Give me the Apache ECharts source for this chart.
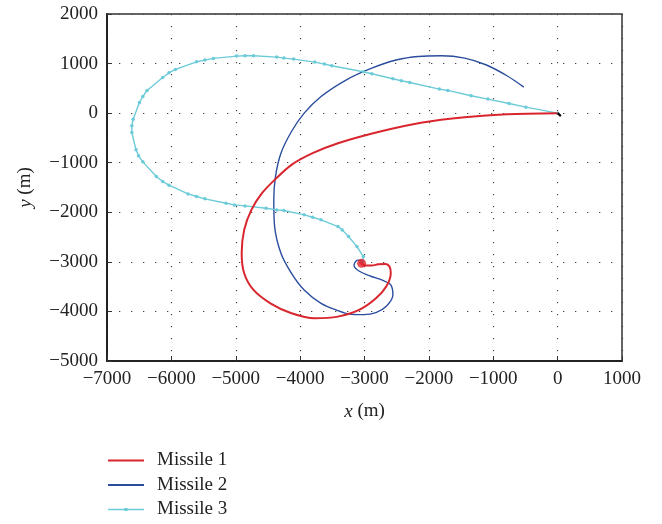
<!DOCTYPE html>
<html><head><meta charset="utf-8">
<script src="https://cdn.jsdelivr.net/npm/echarts@6/dist/echarts.min.js"></script>
<style>html,body{margin:0;padding:0;background:#fff}#c{width:662px;height:524px}</style>
</head><body><div id="c"></div>
<script>
var xTicks = [-7000,-6000,-5000,-4000,-3000,-2000,-1000,0,1000];
var yTicks = [-5000,-4000,-3000,-2000,-1000,0,1000,2000];
var seriesNames = ['Missile 1','Missile 2','Missile 3'];

var missile1 = [[0,0],[-787,-20],[-1444,-81],[-2100,-188],[-2756,-370],[-3412,-606],[-3806,-808],[-4134,-1043],[-4396,-1346],[-4593,-1615],[-4757,-1952],[-4869,-2355],[-4908,-2826],[-4869,-3230],[-4724,-3567],[-4462,-3836],[-4134,-4038],[-3773,-4139],[-3412,-4105],[-3084,-3970],[-2822,-3735],[-2657,-3486],[-2592,-3230],[-2612,-3096],[-2677,-3042],[-2789,-3049],[-2887,-3075],[-2986,-3075],[-3051,-3028],[-3040,-2990]];

var missile2 = [[-525,525],[-787,754],[-1115,976],[-1444,1110],[-1804,1157],[-2165,1144],[-2493,1077],[-2887,908],[-3281,673],[-3675,336],[-3937,0],[-4134,-370],[-4298,-807],[-4383,-1279],[-4409,-1750],[-4396,-2288],[-4298,-2826],[-4134,-3230],[-3937,-3567],[-3675,-3836],[-3412,-3984],[-3230,-4055],[-3018,-4065],[-2822,-4024],[-2657,-3890],[-2559,-3668],[-2592,-3466],[-2723,-3370],[-2900,-3290],[-3080,-3190],[-3163,-3068],[-3110,-2966],[-3023,-2980],[-3030,-3030]];

var missile3 = [[0,0],[-492,121],[-755,195],[-1083,283],[-1345,350],[-1706,458],[-1837,485],[-2297,619],[-2428,653],[-2559,693],[-2887,794],[-3018,834],[-3510,956],[-3622,989],[-3773,1030],[-4101,1090],[-4252,1110],[-4364,1131],[-4724,1157],[-4856,1157],[-4987,1151],[-5348,1104],[-5479,1070],[-5610,1036],[-5938,882],[-6037,814],[-6135,720],[-6378,458],[-6444,336],[-6496,215],[-6594,-121],[-6614,-256],[-6614,-390],[-6549,-740],[-6509,-861],[-6444,-983],[-6234,-1279],[-6135,-1380],[-6037,-1454],[-5741,-1629],[-5610,-1682],[-5479,-1729],[-5151,-1817],[-5020,-1851],[-4856,-1871],[-4528,-1918],[-4364,-1952],[-4252,-1965],[-3937,-2052],[-3806,-2100],[-3675,-2153],[-3412,-2288],[-3346,-2355],[-3248,-2490],[-3117,-2692],[-3018,-2894],[-3031,-2995]];

var endDot = [[-3045,-3030]];
var targetMark = [[0,0],[50,-60]];

var FONT = 'Liberation Serif';
function fmt(v){ return String(v).replace('-', '\u2212'); }

var lineIcon = 'path://M0,0 L36,0 L36,2 L0,2 Z';
var dotIcon = 'path://M0,1.2 L36,1.2 L36,2.8 L0,2.8 Z M16.4,0.4 L19.6,0.4 L19.6,3.6 L16.4,3.6 Z';
var legendText = {fontFamily:FONT, fontSize:19, color:'#222', padding:[0,0,0,8]};
function legendFor(name, icon, h, top){
  return {data:[{name:name, icon:icon}], orient:'vertical', left:103, top:top,
    itemWidth:36, itemHeight:h, textStyle:legendText, selectedMode:false};
}

var chart = echarts.init(document.getElementById('c'), null, {renderer:'canvas'});
chart.setOption({
  animation:false,
  backgroundColor:'#fff',
  grid:{left:107, right:40, top:14, bottom:163, show:true, borderColor:'#333', borderWidth:1.5, backgroundColor:'transparent'},
  legend:[
    legendFor(seriesNames[0], lineIcon, 2, 446),
    legendFor(seriesNames[1], lineIcon, 2, 470.5),
    legendFor(seriesNames[2], dotIcon, 4, 495)
  ],
  xAxis:{
    type:'value', min:-7000, max:1000, interval:1000,
    name:'{i|x} (m)', nameLocation:'middle', nameGap:41,
    nameTextStyle:{fontFamily:FONT, fontSize:19, color:'#222', rich:{i:{fontFamily:FONT, fontSize:19, fontStyle:'italic', color:'#222'}}},
    axisLine:{show:true, onZero:false, lineStyle:{color:'#222', width:2}},
    axisTick:{show:true, inside:true, length:5, lineStyle:{color:'#333'}},
    axisLabel:{fontFamily:FONT, fontSize:19, color:'#222', margin:9, formatter:fmt},
    splitLine:{show:true, lineStyle:{color:'#444', width:1.2, type:[1.3,10.7]}}
  },
  yAxis:{
    type:'value', min:-5000, max:2000, interval:1000,
    name:'{i|y} (m)', nameLocation:'middle', nameGap:72, nameRotate:90,
    nameTextStyle:{fontFamily:FONT, fontSize:19, color:'#222', rich:{i:{fontFamily:FONT, fontSize:19, fontStyle:'italic', color:'#222'}}},
    axisLine:{show:true, onZero:false, lineStyle:{color:'#222', width:2}},
    axisTick:{show:true, inside:true, length:5, lineStyle:{color:'#333'}},
    axisLabel:{fontFamily:FONT, fontSize:19, color:'#222', margin:9, formatter:fmt},
    splitLine:{show:true, lineStyle:{color:'#444', width:1.2, type:[1.3,10.7]}}
  },
  series:[
    {name:'Missile 2', type:'line', data:missile2, symbol:'none', smooth:0.3, lineStyle:{color:'#2b4d9e', width:1.4}, itemStyle:{color:'#2b4d9e'}, z:2},
    {name:'Missile 3', type:'line', data:missile3, symbol:'circle', symbolSize:3.5, showSymbol:true, lineStyle:{color:'#6ccbd8', width:1.4}, itemStyle:{color:'#6ccbd8'}, z:3},
    {name:'Missile 1', type:'line', data:missile1, symbol:'none', smooth:0.3, lineStyle:{color:'#d9262e', width:2}, itemStyle:{color:'#d9262e'}, z:4},
    {name:'end', type:'scatter', data:endDot, symbol:'circle', symbolSize:9, itemStyle:{color:'#e0202a'}, z:5},
    {name:'target', type:'line', data:targetMark, symbol:'none', lineStyle:{color:'#000', width:2.2}, z:6}
  ]
});
</script></body></html>
